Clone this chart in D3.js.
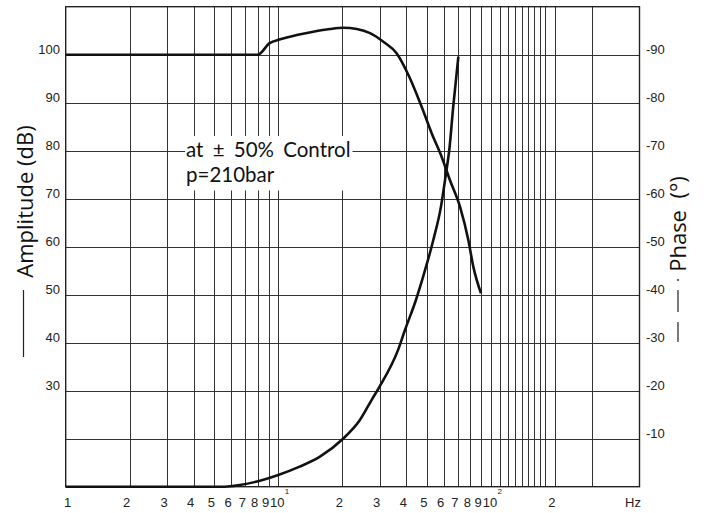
<!DOCTYPE html>
<html>
<head>
<meta charset="utf-8">
<script src="https://cdn.jsdelivr.net/npm/d3@7"></script>
<style>
	body { margin: 0; background: #fff; }
	svg { display: block; }
</style>
</head>
<body>
<div id="chart"></div>
<script>
// Data
const ampData = [
	[1, 100], [8, 100], [9.1, 102.4], [10.2, 103.2], [12.2, 104.1], [14.6, 104.8],
	[17.5, 105.35], [20.2, 105.6], [23.4, 105.35], [27, 104.5], [31.2, 102.7],
	[36, 100.3], [41.5, 95.2], [47, 89.4], [52.7, 83.6], [58.7, 78.7], [64, 74],
	[71.6, 68.3], [78.3, 61.4], [82.7, 55.8], [89.8, 50.3]
];
const phaseData = [
	[1, 0], [5.6, 0], [6.6, -0.35], [8.2, -1.25], [10, -2.44], [12.6, -4.17],
	[15.7, -6.25], [20.1, -9.94], [24.2, -13.9], [27.5, -18.1], [29.9, -20.8],
	[36.6, -28.5], [39.4, -32.6], [44.4, -38.9], [49, -45.1], [53.6, -51.4],
	[58.2, -58.3], [61.5, -65.3], [63.7, -70.1], [66.5, -79.2], [70.3, -89.6]
];
const xGrid = [2, 3, 4, 5, 6, 7, 8, 9, 10, 20, 30, 40, 50, 60, 70, 80, 90, 100,
	110, 120, 130, 140, 150, 160, 170, 180, 200, 300];
const xLabels = [
	{ v: 1, t: "1" }, { v: 2, t: "2" }, { v: 3, t: "3" }, { v: 4, t: "4" },
	{ v: 5, t: "5" }, { v: 6, t: "6" }, { v: 7, t: "7" }, { v: 8, t: "8" },
	{ v: 9, t: "9" }, { v: 10, t: "10", sup: "1" }, { v: 20, t: "2" },
	{ v: 30, t: "3" }, { v: 40, t: "4" }, { v: 50, t: "5" }, { v: 60, t: "6" },
	{ v: 70, t: "7" }, { v: 80, t: "8" }, { v: 90, t: "9" },
	{ v: 100, t: "10", sup: "2" }, { v: 200, t: "2" }
];
const ampGrid = [20, 30, 40, 50, 60, 70, 80, 90, 100];
const ampLabels = [30, 40, 50, 60, 70, 80, 90, 100];
const phaseLabels = [-10, -20, -30, -40, -50, -60, -70, -80, -90];
const noteLines = ["at \u00b1 50% Control", "p=210bar"];

const W = 707, H = 513;
const plot = { left: 65.7, right: 639.5, top: 6.7, bottom: 486.7 };
const tickFont = "'Liberation Sans Narrow', 'Arial Narrow', 'Liberation Sans', sans-serif";

const x = d3.scaleLog().domain([1, 500]).range([plot.left, plot.right]);
const yAmp = d3.scaleLinear().domain([10, 110]).range([plot.bottom, plot.top]);
const yPh = d3.scaleLinear().domain([0, -100]).range([plot.bottom, plot.top]);

const svg = d3.select("#chart").append("svg")
	.attr("width", W)
	.attr("height", H);

// Grid
const grid = svg.append("g")
	.attr("stroke", "#333")
	.attr("stroke-width", 1);

grid.selectAll("line.vx")
	.data(xGrid)
	.join("line")
	.attr("class", "vx")
	.attr("x1", d => Math.round(x(d)) + 0.5)
	.attr("x2", d => Math.round(x(d)) + 0.5)
	.attr("y1", plot.top)
	.attr("y2", plot.bottom);

grid.selectAll("line.hy")
	.data(ampGrid)
	.join("line")
	.attr("class", "hy")
	.attr("x1", plot.left)
	.attr("x2", plot.right)
	.attr("y1", d => Math.round(yAmp(d)) + 0.5)
	.attr("y2", d => Math.round(yAmp(d)) + 0.5);

// Frame
svg.append("rect")
	.attr("x", plot.left)
	.attr("y", plot.top)
	.attr("width", plot.right - plot.left)
	.attr("height", plot.bottom - plot.top)
	.attr("fill", "none")
	.attr("stroke", "#222")
	.attr("stroke-width", 1.4);

// Annotation with white backing
const note = svg.append("g");
const noteBg = note.append("rect").attr("fill", "#fff");
const noteText = note.append("text")
	.attr("font-family", "Lato, 'Open Sans', sans-serif")
	.attr("font-size", 20.5)
	.attr("word-spacing", 4)
	.attr("fill", "#111");
noteText.selectAll("tspan")
	.data(noteLines)
	.join("tspan")
	.attr("x", 186)
	.attr("y", (d, i) => 157 + i * 24.5)
	.text(d => d);
const bb = noteText.node().getBBox();
noteBg.attr("x", bb.x - 1).attr("y", bb.y - 1)
	.attr("width", bb.width + 3).attr("height", bb.height + 6);

// Curves
const line = d3.line().curve(d3.curveMonotoneX);
svg.append("path")
	.attr("d", line(ampData.map(d => [x(d[0]), yAmp(d[1])])))
	.attr("fill", "none")
	.attr("stroke", "#111")
	.attr("stroke-width", 2.6);
svg.append("path")
	.attr("d", line(phaseData.map(d => [x(d[0]), yPh(d[1])])))
	.attr("fill", "none")
	.attr("stroke", "#111")
	.attr("stroke-width", 2.6);

// Left tick labels
svg.append("g")
	.selectAll("text")
	.data(ampLabels)
	.join("text")
	.attr("x", 60)
	.attr("y", d => yAmp(d) - 5)
	.attr("dy", "0.35em")
	.attr("text-anchor", "end")
	.attr("font-family", tickFont)
	.attr("font-size", 13)
	.attr("fill", "#222")
	.text(d => d);

// Right tick labels
svg.append("g")
	.selectAll("text")
	.data(phaseLabels)
	.join("text")
	.attr("x", 646)
	.attr("y", d => yPh(d) - 5)
	.attr("dy", "0.35em")
	.attr("font-family", tickFont)
	.attr("font-size", 13)
	.attr("fill", "#222")
	.text(d => d);

// Bottom tick labels
const xl = svg.append("g")
	.attr("font-family", tickFont)
	.attr("font-size", 13)
	.attr("fill", "#222");
xl.selectAll("text.xt")
	.data(xLabels)
	.join("text")
	.attr("class", "xt")
	.attr("x", d => x(d.v) + (d.v === 1 ? 2 : d.sup ? -1 : -3))
	.attr("y", 507)
	.attr("text-anchor", "middle")
	.text(d => d.t);
xl.selectAll("text.sup")
	.data(xLabels.filter(d => d.sup))
	.join("text")
	.attr("class", "sup")
	.attr("x", d => x(d.v) + 6.5)
	.attr("y", 494)
	.attr("font-size", 8)
	.text(d => d.sup);
xl.append("text")
	.attr("x", 633)
	.attr("y", 507)
	.attr("text-anchor", "middle")
	.text("Hz");

// Axis titles
const titleFont = "'Open Sans', 'Noto Sans', sans-serif";
svg.append("text")
	.attr("transform", "translate(25,201.5) rotate(-90)")
	.attr("text-anchor", "middle")
	.attr("dy", "0.35em")
	.attr("font-family", titleFont)
	.attr("font-size", 22)
	.attr("fill", "#111")
	.text("Amplitude (dB)");
svg.append("line")
	.attr("x1", 23.5).attr("x2", 23.5)
	.attr("y1", 290).attr("y2", 357)
	.attr("stroke", "#222").attr("stroke-width", 1.2);

svg.append("text")
	.attr("transform", "translate(678,224) rotate(-90)")
	.attr("text-anchor", "middle")
	.attr("dy", "0.35em")
	.attr("font-family", titleFont)
	.attr("font-size", 22)
	.attr("fill", "#111")
	.attr("xml:space", "preserve")
	.text("Phase  (\u00b0)");
svg.append("circle")
	.attr("cx", 678).attr("cy", 280).attr("r", 0.9).attr("fill", "#222");
svg.append("g")
	.attr("stroke", "#222").attr("stroke-width", 1.2)
	.selectAll("line")
	.data([[290, 312], [322, 342]])
	.join("line")
	.attr("x1", 678).attr("x2", 678)
	.attr("y1", d => d[0]).attr("y2", d => d[1]);
</script>
</body>
</html>
